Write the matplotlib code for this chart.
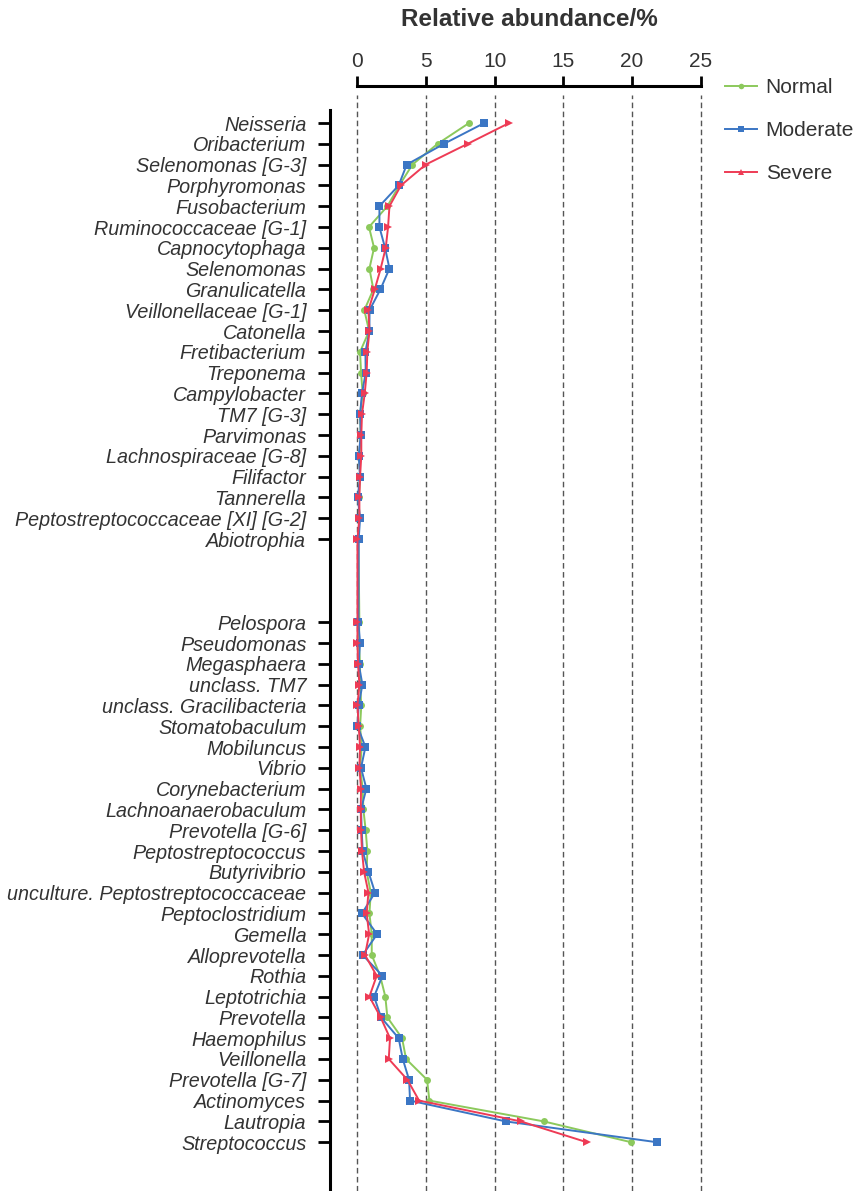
import matplotlib
matplotlib.use("Agg")
import matplotlib.pyplot as plt
from matplotlib.lines import Line2D
import numpy as np

plt.rcParams['font.family'] = ['Liberation Sans', 'DejaVu Sans']

genera_top = [
    "Neisseria", "Oribacterium", "Selenomonas [G-3]", "Porphyromonas", "Fusobacterium",
    "Ruminococcaceae [G-1]", "Capnocytophaga", "Selenomonas", "Granulicatella",
    "Veillonellaceae [G-1]", "Catonella", "Fretibacterium", "Treponema", "Campylobacter",
    "TM7 [G-3]", "Parvimonas", "Lachnospiraceae [G-8]", "Filifactor", "Tannerella",
    "Peptostreptococcaceae [XI] [G-2]", "Abiotrophia",
]
genera_bottom = [
    "Pelospora", "Pseudomonas", "Megasphaera", "unclass. TM7", "unclass. Gracilibacteria",
    "Stomatobaculum", "Mobiluncus", "Vibrio", "Corynebacterium", "Lachnoanaerobaculum",
    "Prevotella [G-6]", "Peptostreptococcus", "Butyrivibrio",
    "unculture. Peptostreptococcaceae", "Peptoclostridium", "Gemella", "Alloprevotella",
    "Rothia", "Leptotrichia", "Prevotella", "Haemophilus", "Veillonella",
    "Prevotella [G-7]", "Actinomyces", "Lautropia", "Streptococcus",
]

normal = [
    8.13, 5.84, 4.00, 3.05, 2.18, 0.84, 1.21, 0.87, 1.16, 0.50, 0.85,
    0.19, 0.26, 0.38, 0.19, 0.24, 0.14, 0.19, 0.09, 0.14, 0.07,
    0.14, 0.09, 0.19, 0.19, 0.28, 0.19, 0.31, 0.19, 0.38, 0.43, 0.60, 0.72,
    0.67, 0.97, 0.87, 1.04, 1.04, 1.65, 2.03, 2.18, 3.25, 3.54, 5.07, 5.24,
    13.57, 19.93,
]
moderate = [
    9.24, 6.30, 3.59, 3.00, 1.60, 1.60, 2.01, 2.33, 1.67, 0.88, 0.87,
    0.58, 0.60, 0.33, 0.19, 0.24, 0.09, 0.19, 0.02, 0.19, 0.09,
    0.07, 0.19, 0.09, 0.36, 0.09, 0.00, 0.58, 0.26, 0.65, 0.26, 0.31, 0.38,
    0.80, 1.28, 0.33, 1.43, 0.38, 1.82, 1.21, 1.72, 3.00, 3.30, 3.76, 3.83,
    10.80, 21.80,
]
severe = [
    11.05, 8.03, 4.97, 3.17, 2.33, 2.23, 2.06, 1.69, 1.26, 0.80, 0.87,
    0.72, 0.67, 0.53, 0.33, 0.28, 0.28, 0.19, 0.14, 0.14, 0.00,
    0.00, 0.00, 0.04, 0.14, 0.00, 0.09, 0.19, 0.14, 0.26, 0.24, 0.26, 0.33,
    0.48, 0.80, 0.67, 0.85, 0.55, 1.40, 0.87, 1.69, 2.37, 2.28, 3.64, 4.49,
    11.90, 16.70,
]

x_ticks = [0, 5, 10, 15, 20, 25]
series_names = ["Normal", "Moderate", "Severe"]

labels = genera_top + genera_bottom
gap = 3
ypos = [i for i in range(len(genera_top))] + \
       [len(genera_top) + gap + i for i in range(len(genera_bottom))]

fig = plt.figure(figsize=(8.56, 11.91), dpi=100)
W, H = 856, 1191
ax_left, ax_right = 330 / W, 700.7 / W
ax_top_px = 86
ax = fig.add_axes([ax_left, 0, ax_right - ax_left, (H - ax_top_px) / H])

row_px = 20.8
y_first_px = 123
ytop = -(y_first_px - ax_top_px) / row_px
ybot = ytop + (H - ax_top_px) / row_px
ax.set_ylim(ybot, ytop)
ax.set_xlim(-2.0, 25)

colors = {"Normal": "#8cc95c", "Moderate": "#3b76c4", "Severe": "#ee3b55"}
markers = {"Normal": ("o", 5), "Moderate": ("s", 5.5), "Severe": (">", 6)}
for name, vals in zip(series_names, [normal, moderate, severe]):
    m, ms = markers[name]
    ax.plot(vals, ypos, color=colors[name], lw=1.4, marker=m, ms=ms,
            markeredgewidth=0, label=name, zorder=3 + series_names.index(name))

grid_ymax = (H - 95) / (H - ax_top_px)
for xt in x_ticks:
    ax.axvline(xt, ymin=0, ymax=grid_ymax, color="#555555", lw=1.0,
               ls=(0, (4, 2.5)), zorder=1, clip_on=False)

ax.set_yticks(ypos)
ax.set_yticklabels(labels, fontsize=14.2, fontstyle="italic", color="#333333")
ax.xaxis.tick_top()
ax.set_xticks(x_ticks)
ax.set_xticklabels([str(t) for t in x_ticks], fontsize=15, color="#333333")

for s in ["right", "bottom"]:
    ax.spines[s].set_visible(False)
ax.spines["top"].set_bounds(0, 25)
ax.spines["top"].set_linewidth(2.2)
ax.spines["left"].set_linewidth(2.2)
ax.spines["left"].set_bounds(ybot, ytop + (110 - ax_top_px) / row_px)
ax.tick_params(axis="x", direction="out", length=7, width=2.0, pad=4, colors="black",
               labelcolor="#333333")
ax.tick_params(axis="y", direction="out", length=9, width=2.0, pad=8, colors="black",
               labelcolor="#333333")

fig.text((357.4 + 700.7) / 2 / W, 1 - 20 / H, "Relative abundance/%", ha="center",
         va="center", fontsize=17.5, fontweight="bold", color="#333333")

leg_markers = {"Normal": "o", "Moderate": "s", "Severe": "^"}
handles = [Line2D([0], [0], color=colors[n], lw=1.4, marker=leg_markers[n],
                  ms=markers[n][1] * 0.8, markeredgewidth=0) for n in series_names]
fig.legend(handles, series_names, loc="upper left", bbox_to_anchor=(725 / W, 1 - 78 / H),
           frameon=False, fontsize=15, handlelength=1.55, handletextpad=0.4,
           labelspacing=1.15, labelcolor="#333333", borderpad=0, borderaxespad=0)

fig.savefig("out.png", dpi=100)
